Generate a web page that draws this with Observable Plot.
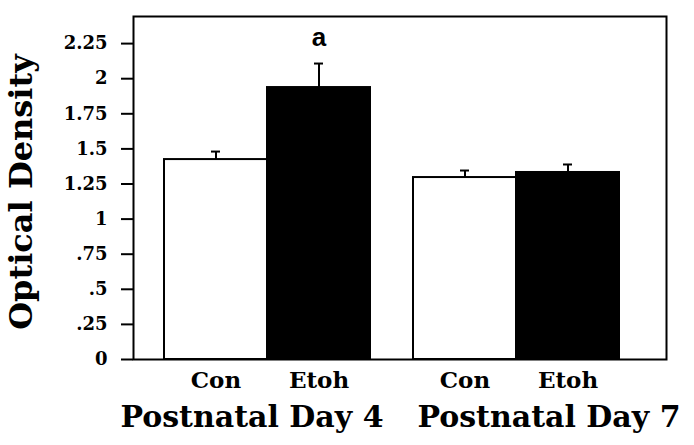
<!DOCTYPE html>
<html><head><meta charset="utf-8">
<script src="https://cdn.jsdelivr.net/npm/d3@7"></script>
<script src="https://cdn.jsdelivr.net/npm/@observablehq/plot@0.6"></script>
<style>
html,body{margin:0;padding:0;background:#fff;}
</style>
</head><body><div id="chart"></div>
<script>
const days = ["Postnatal Day 4", "Postnatal Day 4", "Postnatal Day 7", "Postnatal Day 7"];
const groups = ["Con", "Etoh", "Con", "Etoh"];
const means = [1.424, 1.937, 1.296, 1.332];
const errors = [0.057, 0.171, 0.05, 0.057];
const sigLabels = ["", "a", "", ""];
const dayDomain = ["Postnatal Day 4", "Postnatal Day 7"];
const groupDomain = ["Con", "Etoh"];
const yTicks = [0, 0.25, 0.5, 0.75, 1, 1.25, 1.5, 1.75, 2, 2.25];
const yTickLabels = ["0", ".25", ".5", ".75", "1", "1.25", "1.5", "1.75", "2", "2.25"];
const yLabel = ["Optical Density"];

const data = days.map((d, i) => ({
  day: d, group: groups[i], mean: means[i], err: errors[i],
  top: means[i] + errors[i], sig: sigLabels[i]
}));

const chart = Plot.plot({
  width: 694, height: 445,
  marginLeft: 163, marginRight: 74, marginTop: 16, marginBottom: 86,
  style: {fontFamily: "'DejaVu Serif', serif", fontWeight: "bold", color: "black", background: "white", overflow: "visible"},
  fx: {domain: dayDomain, paddingInner: 0.168, paddingOuter: 0, label: null},
  x: {domain: groupDomain, padding: 0, label: null},
  y: {domain: [0, 2.443], label: null},
  color: {domain: groupDomain, range: ["white", "black"]},
  marks: [
    Plot.barY(data, {fx: "day", x: "group", y: "mean", fill: "group", stroke: "black", strokeWidth: 2}),
    Plot.ruleX(data, {fx: "day", x: "group", y1: "mean", y2: "top", stroke: "black", strokeWidth: 2}),
    Plot.tickY(data, {fx: "day", x: "group", y: "top", insetLeft: 47, insetRight: 47, stroke: "black", strokeWidth: 2}),
    Plot.text(data.filter(d => d.sig), {fx: "day", x: "group", y: "top", text: "sig", dy: -26,
      fontFamily: "'Liberation Sans', Arial, sans-serif", fontSize: 26, fontWeight: "bold", fill: "black"}),
    Plot.axisX({tickSize: 0, tickPadding: 12, fontSize: 23, label: null}),
    Plot.axisFx({anchor: "bottom", ticks: [dayDomain[0]], dx: -15, tickSize: 0, tickPadding: 46, fontSize: 30, label: null}),
    Plot.axisFx({anchor: "bottom", ticks: [dayDomain[1]], dx: 33, tickSize: 0, tickPadding: 46, fontSize: 30, label: null}),
    Plot.axisY({ticks: yTicks, tickFormat: d => yTickLabels[yTicks.indexOf(d)], dx: -30,
      tickSize: 12, tickPadding: 14, fontSize: 18, strokeWidth: 2, label: null}),
    Plot.frame({facet: "super", stroke: "black", strokeWidth: 2, insetLeft: -30, insetRight: -47}),
    Plot.text(yLabel, {facet: "super", frameAnchor: "left", text: d => d, rotate: -90, textAnchor: "middle",
      lineAnchor: "middle", dx: -142, dy: 4, fontSize: 32, fontWeight: "bold", fill: "black"})
  ]
});
document.getElementById("chart").appendChild(chart);
</script>
</body></html>
